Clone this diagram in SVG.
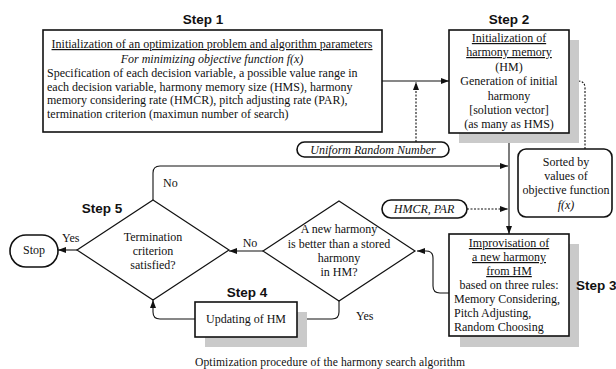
<svg xmlns="http://www.w3.org/2000/svg" width="616" height="369" viewBox="0 0 616 369">
<defs>
<style>
.t{font-family:"Liberation Serif","Times New Roman",serif;font-size:12px;fill:#111}
.c{text-anchor:middle}
.u{text-decoration:underline}
.i{font-style:italic}
.s{font-family:"Liberation Sans",Arial,sans-serif;font-size:13.5px;font-weight:bold;fill:#111}
.box{fill:#fff;stroke:#111;stroke-width:1.6}
.sh{fill:#cacaca}
.ln{fill:none;stroke:#111;stroke-width:1.1}
.dl{fill:none;stroke:#111;stroke-width:1.1;stroke-dasharray:2 1.5}
.dm{fill:#fff;stroke:#111;stroke-width:1.2}
</style>
<marker id="ah" viewBox="0 0 8 6" refX="8" refY="3" markerWidth="8" markerHeight="6" markerUnits="userSpaceOnUse" orient="auto">
<path d="M0,0 L8,3 L0,6 Z" fill="#111"/>
</marker>
</defs>
<rect width="616" height="369" fill="#fff"/>

<g id="connectors">
<path class="ln" d="M382,81 H449" marker-end="url(#ah)"/>
<path class="dl" d="M416,142 V82" marker-end="url(#ah)"/>
<path class="dl" d="M585,149 V88 Q585,81 578,81 H569" marker-end="url(#ah)"/>
<path class="ln" d="M509,133 V234" marker-end="url(#ah)"/>
<path class="ln" d="M153,200 V173 Q153,166 160,166 H508" marker-end="url(#ah)"/>
<path class="dl" d="M467,209 H508" marker-end="url(#ah)"/>
<path class="ln" d="M449,293 H440 Q433,293 433,286 V258 Q433,251 426,251 H417" marker-end="url(#ah)"/>
<path class="ln" d="M263,251 H229" marker-end="url(#ah)"/>
<path class="ln" d="M339,301 V312 Q339,319 332,319 H297" marker-end="url(#ah)"/>
<path class="ln" d="M195,319 H160 Q153,319 153,312 V300" marker-end="url(#ah)"/>
<path class="ln" d="M77,250 H58" marker-end="url(#ah)"/>
</g>

<g id="step1">
<text class="s c" x="203" y="24">Step 1</text>
<rect class="box" x="43" y="30" width="339" height="102"/>
<text class="t c u" x="212" y="48">Initialization of an optimization problem and algorithm parameters</text>
<text class="t c i" x="212" y="63">For minimizing objective function f(x)</text>
<text class="t" x="47" y="77">Specification of each decision variable, a possible value range in</text>
<text class="t" x="47" y="91">each decision variable, harmony memory size (HMS), harmony</text>
<text class="t" x="47" y="104">memory considering rate (HMCR), pitch adjusting rate (PAR),</text>
<text class="t" x="47" y="118">termination criterion (maximun number of search)</text>
</g>

<g id="step2">
<text class="s c" x="509" y="24">Step 2</text>
<rect class="sh" x="459" y="40" width="120" height="103"/>
<rect class="box" x="449" y="30" width="120" height="103"/>
<text class="t c u" x="509" y="42">Initialization of</text>
<text class="t c u" x="509" y="56">harmony memory</text>
<text class="t c" x="509" y="71">(HM)</text>
<text class="t c" x="509" y="85">Generation of initial</text>
<text class="t c" x="509" y="100">harmony</text>
<text class="t c" x="509" y="114">[solution vector]</text>
<text class="t c" x="509" y="128">(as many as HMS)</text>
</g>

<g id="urn">
<rect class="box" x="297" y="142" width="152" height="15" rx="7.5" stroke-width="1.2"/>
<text class="t c i" x="373" y="154">Uniform Random Number</text>
</g>

<g id="sorted">
<rect class="box" x="518" y="149" width="94" height="68" rx="8" stroke-width="1.2"/>
<text class="t c" x="566" y="166">Sorted by</text>
<text class="t c" x="566" y="180">values of</text>
<text class="t c" x="566" y="194">objective function</text>
<text class="t c i" x="566" y="209">f(x)</text>
</g>

<g id="hmcr">
<rect class="box" x="382" y="200" width="85" height="18" rx="9" stroke-width="1.2"/>
<text class="t c i" x="424" y="213">HMCR, PAR</text>
</g>

<g id="step3">
<rect class="sh" x="460" y="244" width="119" height="103"/>
<rect class="box" x="449" y="234" width="120" height="102"/>
<text class="t c u" x="509" y="247">Improvisation of</text>
<text class="t c u" x="509" y="261">a new harmony</text>
<text class="t c u" x="509" y="275">from HM</text>
<text class="t c" x="509" y="289">based on three rules:</text>
<text class="t" x="454" y="303">Memory Considering,</text>
<text class="t" x="454" y="317">Pitch Adjusting,</text>
<text class="t" x="454" y="331">Random Choosing</text>
<text class="s" x="576" y="290">Step 3</text>
</g>

<g id="decision">
<polygon class="dm" points="339,201 415,251 339,301 263,251"/>
<text class="t c" x="339" y="233">A new harmony</text>
<text class="t c" x="339" y="248">is better than a stored</text>
<text class="t c" x="339" y="262">harmony</text>
<text class="t c" x="339" y="276">in HM?</text>
<text class="t" x="356" y="320">Yes</text>
<text class="t c" x="250" y="247">No</text>
</g>

<g id="step4">
<text class="s c" x="247" y="297">Step 4</text>
<rect class="sh" x="205" y="312" width="102" height="35"/>
<rect class="box" x="195" y="302" width="102" height="35"/>
<text class="t c" x="246" y="323">Updating of HM</text>
</g>

<g id="step5">
<text class="s c" x="102" y="213">Step 5</text>
<polygon class="dm" points="153,200 229,250 153,300 77,250"/>
<text class="t c" x="153" y="241">Termination</text>
<text class="t c" x="153" y="255">criterion</text>
<text class="t c" x="153" y="269">satisfied?</text>
<text class="t" x="163" y="187">No</text>
<text class="t" x="62" y="242">Yes</text>
</g>

<g id="stop">
<rect class="box" x="10" y="235" width="48" height="32" rx="16" stroke-width="1.2"/>
<text class="t c" x="34" y="254">Stop</text>
</g>

<text class="t c" x="330" y="366" style="font-size:11.6px;letter-spacing:0.1px">Optimization procedure of the harmony search algorithm</text>
</svg>
